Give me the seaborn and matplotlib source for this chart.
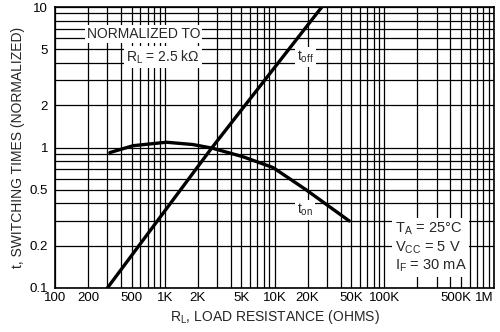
import matplotlib
matplotlib.use("Agg")
import matplotlib.pyplot as plt
from matplotlib.ticker import LogLocator, FixedLocator, FixedFormatter, NullFormatter
from matplotlib.transforms import ScaledTranslation
import seaborn as sns
import pandas as pd

# ---- data ----
r_off = [300, 2700, 27000]
t_off = [0.1, 1.0, 10.0]

r_on = [316, 515, 1035, 1800, 2700, 5150, 9700, 19400, 48000]
t_on = [0.92, 1.03, 1.09, 1.05, 0.99, 0.86, 0.72, 0.50, 0.30]

x_ticks = [100, 200, 500, 1e3, 2e3, 5e3, 1e4, 2e4, 5e4, 1e5, 5e5, 1e6]
x_labels = ["100", "200", "500", "1K", "2K", "5K", "10K", "20K", "50K", "100K", "500K", "1M"]
y_ticks = [0.1, 0.2, 0.5, 1, 2, 5, 10]
y_labels = ["0.1", "0.2", "0.5", "1", "2", "5", "10"]

sns.set_style("white")
plt.rcParams["font.family"] = ["Liberation Sans", "DejaVu Sans"]

df_off = pd.DataFrame({"R": r_off, "t": t_off})
df_on = pd.DataFrame({"R": r_on, "t": t_on})

fig = plt.figure(figsize=(5.0, 3.32), dpi=100)
ax = fig.add_axes([55 / 500, 1 - 288 / 332, 439 / 500, 281 / 332])

ax.set_xscale("log")
ax.set_yscale("log")
ax.set_xlim(100, 1e6)
ax.set_ylim(0.1, 10)

ax.xaxis.set_minor_locator(LogLocator(base=10, subs=range(2, 10), numticks=20))
ax.yaxis.set_minor_locator(LogLocator(base=10, subs=range(2, 10), numticks=20))
ax.xaxis.set_minor_formatter(NullFormatter())
ax.yaxis.set_minor_formatter(NullFormatter())
ax.grid(True, which="both", color="black", linewidth=0.9)
ax.set_axisbelow(True)

sns.lineplot(data=df_off, x="R", y="t", ax=ax, color="black", linewidth=2.4, legend=False)
sns.lineplot(data=df_on, x="R", y="t", ax=ax, color="black", linewidth=2.4, legend=False)

ax.xaxis.set_major_locator(FixedLocator(x_ticks))
ax.xaxis.set_major_formatter(FixedFormatter(x_labels))
ax.yaxis.set_major_locator(FixedLocator(y_ticks))
ax.yaxis.set_major_formatter(FixedFormatter(y_labels))
ax.tick_params(axis="both", which="both", length=0, labelsize=9.5, colors="black")
ax.tick_params(axis="y", pad=5)
ax.tick_params(axis="x", pad=3)
xl = ax.get_xticklabels()
xl[-1].set_horizontalalignment("right")
xl[-2].set_transform(xl[-2].get_transform() + ScaledTranslation(-4 / 72, 0, fig.dpi_scale_trans))

for s in ax.spines.values():
    s.set_color("black")
    s.set_linewidth(1.2)

ax.set_xlabel("R$_\\mathregular{L}$, LOAD RESISTANCE (OHMS)", fontsize=10, labelpad=3)
ax.set_ylabel("t, SWITCHING TIMES (NORMALIZED)", fontsize=10, labelpad=3)

box = dict(facecolor="white", edgecolor="none", pad=1.5)
ax.text(2100, 6.4, "NORMALIZED TO", ha="right", va="center", fontsize=10, bbox=box)
ax.text(2100, 4.4, "R$_\\mathregular{L}$ = 2.5 k\u03a9", ha="right", va="center", fontsize=10, bbox=box)
ax.text(19000, 4.4, "t$_\\mathregular{off}$", ha="center", va="center", fontsize=10, bbox=box)
ax.text(19000, 0.36, "t$_\\mathregular{on}$", ha="center", va="center", fontsize=10, bbox=box)
ax.text(1.25e5, 0.195, "T$_\\mathregular{A}$ = 25\u00b0C\nV$_\\mathregular{CC}$ = 5 V\nI$_\\mathregular{F}$ = 30 mA",
        ha="left", va="center", fontsize=10.5, linespacing=1.15,
        bbox=dict(facecolor="white", edgecolor="none", pad=2))

fig.savefig("out.png", dpi=100, facecolor="white")
